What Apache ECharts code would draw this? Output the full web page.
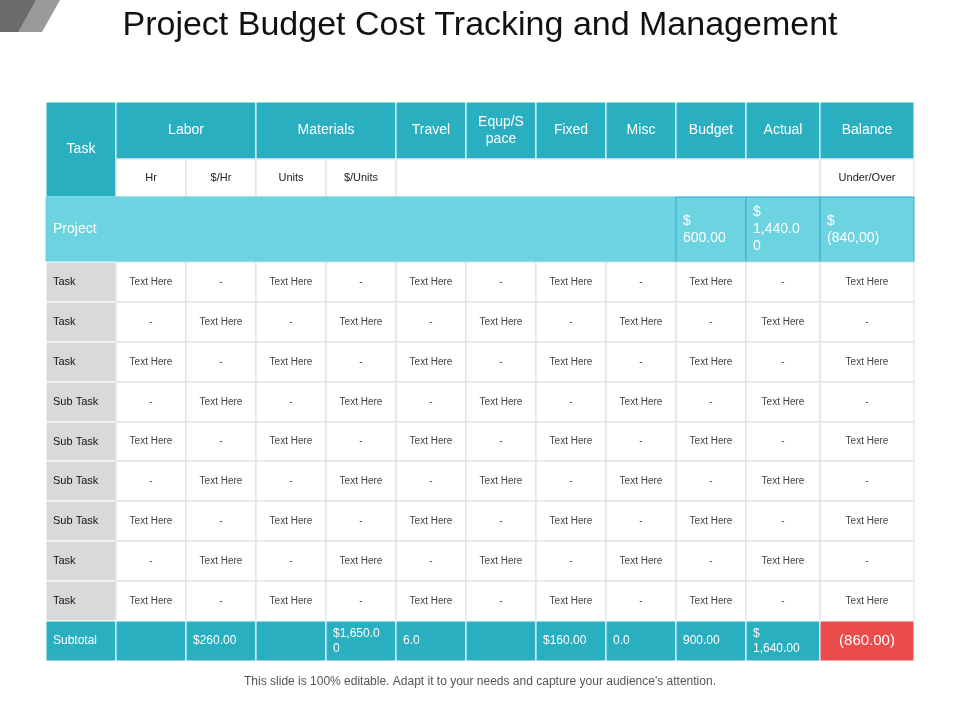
<!DOCTYPE html>
<html>
<head>
<meta charset="UTF-8">
<title>Project Budget Cost Tracking and Management</title>
<script src="https://cdn.jsdelivr.net/npm/echarts@6/dist/echarts.min.js"></script>
<style>body{margin:0;background:#fff}</style>
</head>
<body>
<div id="main" style="width:960px;height:720px;"></div>
<script type="text/javascript">
// table content
var groupHeaders = [['Labor', 1, 2], ['Materials', 3, 4], ['Travel', 5, 5], ['Equp/S\npace', 6, 6], ['Fixed', 7, 7], ['Misc', 8, 8], ['Budget', 9, 9], ['Actual', 10, 10], ['Balance', 11, 11]];
var subHeaders = ['Hr', '$/Hr', 'Units', '$/Units'];
var rowLabels = ['Task', 'Task', 'Task', 'Sub Task', 'Sub Task', 'Sub Task', 'Sub Task', 'Task', 'Task'];
var projectValues = ['$\n600.00', '$\n1,440.0\n0', '$\n(840,00)'];
var subtotalValues = ['', '$260.00', '', '$1,650.0\n0', '6.0', '', '$160.00', '0.0', '900.00', '$\n1,640.00', '(860.00)'];

// layout (column / row edges in table units)
var colEdges = [0, 70, 140, 210, 280, 350, 420, 490, 560, 630, 700, 774, 868];
var rowEdges = [0, 57, 95, 160, 200, 240, 280, 320, 359, 399, 439, 479, 519, 559];

var TEAL = '#2AAFC1', LIGHT = '#6CD3E0', GRAY = '#D9D9D9', RED = '#EC4B4B';
var cells = [];
function cell(c0, c1, r0, r1, text, s) {
  cells.push({ value: [colEdges[c0], colEdges[c1 + 1], rowEdges[r0], rowEdges[r1 + 1]], text: text, s: s });
}
var hdr = { fill: TEAL, stroke: '#fff', color: '#fff', size: 14, align: 'center' };
cell(0, 0, 0, 1, 'Task', hdr);
groupHeaders.forEach(function (g) { cell(g[1], g[2], 0, 0, g[0], hdr); });
var sub = { fill: '#fff', stroke: '#ddd', color: '#222', size: 11, align: 'center' };
subHeaders.forEach(function (h, i) { cell(i + 1, i + 1, 1, 1, h, sub); });
cell(5, 10, 1, 1, '', sub);
cell(11, 11, 1, 1, 'Under/Over', sub);
var proj = { fill: LIGHT, stroke: LIGHT, color: '#fff', size: 14, align: 'left' };
cell(0, 8, 2, 2, 'Project', proj);
projectValues.forEach(function (v, i) { cell(9 + i, 9 + i, 2, 2, v, { fill: LIGHT, stroke: '#3aa7d8', color: '#fff', size: 14, align: 'left' }); });
rowLabels.forEach(function (lab, r) {
  cell(0, 0, 3 + r, 3 + r, lab, { fill: GRAY, stroke: '#fff', color: '#111', size: 11, align: 'left' });
  for (var c = 1; c <= 11; c++) {
    var t = ((c + r) % 2 === 1) ? 'Text Here' : '-';
    cell(c, c, 3 + r, 3 + r, t, { fill: '#fff', stroke: '#ddd', color: '#444', size: 10, align: 'center' });
  }
});
cell(0, 0, 12, 12, 'Subtotal', { fill: TEAL, stroke: '#fff', color: '#fff', size: 12, align: 'left' });
subtotalValues.forEach(function (v, i) {
  var red = i === 10;
  cell(i + 1, i + 1, 12, 12, v, { fill: red ? RED : TEAL, stroke: '#fff', color: '#fff', size: red ? 15 : 12, align: red ? 'center' : 'left' });
});

var myChart = echarts.init(document.getElementById('main'));
var option = {
  animation: false,
  title: {
    text: 'Project Budget Cost Tracking and Management',
    left: 'center', top: 4,
    textStyle: { fontFamily: 'Liberation Sans, Arial', fontSize: 34, fontWeight: 'normal', color: '#111' }
  },
  graphic: [
    { type: 'polygon', shape: { points: [[0, 0], [60, 0], [42, 32], [0, 32]] }, style: { fill: '#9a9a9a' } },
    { type: 'polygon', shape: { points: [[0, 0], [36, 0], [18, 32], [0, 32]] }, style: { fill: '#6b6b6b' } },
    { type: 'text', left: 'center', top: 676, style: { text: "This slide is 100% editable. Adapt it to your needs and capture your audience's attention.", fill: '#555', font: '12px Liberation Sans, Arial' } }
  ],
  grid: { left: 46, right: 46, top: 102, bottom: 59 },
  xAxis: { type: 'value', min: 0, max: 868, show: false },
  yAxis: { type: 'value', min: 0, max: 559, inverse: true, show: false },
  series: [{
    type: 'custom',
    data: cells,
    renderItem: function (params, api) {
      var c = cells[params.dataIndex], s = c.s;
      var p0 = api.coord([api.value(0), api.value(2)]);
      var p1 = api.coord([api.value(1), api.value(3)]);
      var w = p1[0] - p0[0], h = p1[1] - p0[1];
      return {
        type: 'group',
        children: [
          { type: 'rect', shape: { x: p0[0], y: p0[1], width: w, height: h }, style: { fill: s.fill, stroke: s.stroke, lineWidth: 1 } },
          { type: 'text', style: {
              x: s.align === 'left' ? p0[0] + 7 : p0[0] + w / 2, y: p0[1] + h / 2,
              text: c.text, fill: s.color, align: s.align, verticalAlign: 'middle',
              font: s.size + 'px Liberation Sans, Arial', lineHeight: s.size + 3
          } }
        ]
      };
    }
  }]
};
myChart.setOption(option);
</script>
</body>
</html>
